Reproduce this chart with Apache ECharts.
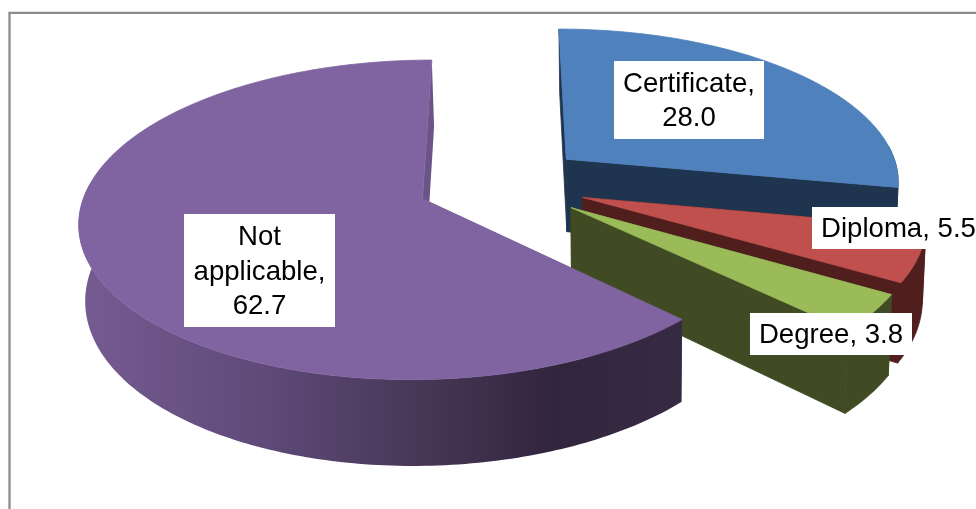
<!DOCTYPE html>
<html>
<head>
<meta charset="utf-8">
<style>html,body{margin:0;padding:0;background:#fff;overflow:hidden}#chart{width:976px;height:509px}</style>
<script src="https://cdn.jsdelivr.net/npm/echarts@6/dist/echarts.min.js"></script>
</head>
<body>
<div id="chart"></div>
<script>
// Qualification shares, drawn clockwise from twelve o'clock as an exploded 3D pie.
const categories = ['Certificate', 'Diploma', 'Degree', 'Not applicable'];
const shares = [28.0, 5.5, 3.8, 62.7];
const labelLines = [['Certificate,', '28.0'], ['Diploma, 5.5'], ['Degree, 3.8'], ['Not', 'applicable,', '62.7']];

const faceColors = ['#4f81bd', '#c0504d', '#9bbb59', '#8064a2'];
const wallColors = ['#1f344f', '#4f1e1d', '#404b24', '#6b5488'];
const labelBoxes = [[614, 61, 150, 78], [812, 207, 170, 42], [750, 313, 162, 42], [184, 214, 151, 113]];

// Perspective model of the pie plane.
const view = { cx: 502, cy: 183.5, rx: 335, ry: 153, tilt: 0.13, explode: 0.254, depth: 74, squeeze: 0.012, vanishX: 620 };

function project(gx, gy) {
  const s = 1 / (1 - view.tilt * gy);
  return { x: view.cx + view.rx * gx * s, y: view.cy + view.ry * gy * s, s: s };
}
const top2 = p => [p.x, p.y];
const low2 = p => [view.vanishX + (p.x - view.vanishX) * (1 - view.squeeze), p.y + view.depth * p.s];

function sliceGeometry(index) {
  const total = shares.reduce((a, b) => a + b, 0);
  const before = shares.slice(0, index).reduce((a, b) => a + b, 0);
  const a0 = before / total * 2 * Math.PI;
  const a1 = (before + shares[index]) / total * 2 * Math.PI;
  const mid = (a0 + a1) / 2;
  const ox = Math.sin(mid) * view.explode;
  const oy = -Math.cos(mid) * view.explode;
  const steps = Math.max(8, Math.round((a1 - a0) * 180 / Math.PI));
  const rim = [];
  for (let i = 0; i <= steps; i++) {
    const a = a0 + (a1 - a0) * i / steps;
    const p = project(ox + Math.sin(a), oy - Math.cos(a));
    p.facesViewer = Math.abs(a - Math.PI) <= 96 * Math.PI / 180;
    rim.push(p);
  }
  return { apex: project(ox, oy), rim: rim };
}

function wallFill(index) {
  if (index !== 3) return wallColors[index];
  return new echarts.graphic.LinearGradient(80, 0, 686, 0, [
    { offset: 0, color: '#765b92' },
    { offset: 0.3, color: '#5f4a79' },
    { offset: 0.6, color: '#443452' },
    { offset: 0.78, color: '#32253e' },
    { offset: 1, color: '#372a43' }
  ], true);
}

function renderSlice(params, api) {
  const index = api.value(0);
  const g = sliceGeometry(index);
  const poly = (points, fill, stroke) => ({
    type: 'polygon',
    shape: { points: points },
    style: { fill: fill, stroke: stroke || null, lineWidth: stroke ? 0.8 : 0 },
    silent: true
  });
  const first = g.rim[0], last = g.rim[g.rim.length - 1];
  const wall = wallColors[index];
  const seam = index === 3 ? null : wall;
  const front = g.rim.filter(p => p.facesViewer);
  // Leading radial wall, outer wall, trailing radial wall, then the top face over them.
  const children = [
    poly([top2(g.apex), top2(first), low2(first), low2(g.apex)], wallFill(index), seam),
    poly(front.map(top2).concat(front.map(low2).reverse()), wallFill(index), seam),
    poly([top2(g.apex), top2(last), low2(last), low2(g.apex)], wall, seam),
    poly([top2(g.apex)].concat(g.rim.map(top2)), faceColors[index], faceColors[index])
  ];
  return { type: 'group', children: children };
}

function renderLabel(params, api) {
  const index = api.value(0);
  const b = labelBoxes[index];
  return {
    type: 'group',
    children: [
      { type: 'rect', shape: { x: b[0], y: b[1], width: b[2], height: b[3] }, style: { fill: '#fff' } },
      {
        type: 'text',
        style: {
          text: labelLines[index].join('\n'),
          x: index === 1 ? 821 : b[0] + b[2] / 2,
          y: b[1] + b[3] / 2 + 1.5,
          align: index === 1 ? 'left' : 'center',
          verticalAlign: 'middle',
          lineHeight: 34.5,
          font: '27.6px "Liberation Sans", Arial, sans-serif',
          fill: '#000'
        }
      }
    ]
  };
}

const chart = echarts.init(document.getElementById('chart'), null, { renderer: 'canvas' });
const rows = categories.map((name, i) => [i, shares[i], name]);
chart.setOption({
  animation: false,
  backgroundColor: '#fff',
  graphic: [{
    type: 'polyline',
    z: 0,
    shape: { points: [[9.5, 509], [9.5, 12.8], [976, 12.8]] },
    style: { stroke: '#8c8c8c', lineWidth: 2.3, fill: null }
  }],
  series: [
    { type: 'custom', coordinateSystem: 'none', data: rows, renderItem: renderSlice, z: 2 },
    { type: 'custom', coordinateSystem: 'none', data: rows, renderItem: renderLabel, z: 3 }
  ]
});
</script>
</body>
</html>
